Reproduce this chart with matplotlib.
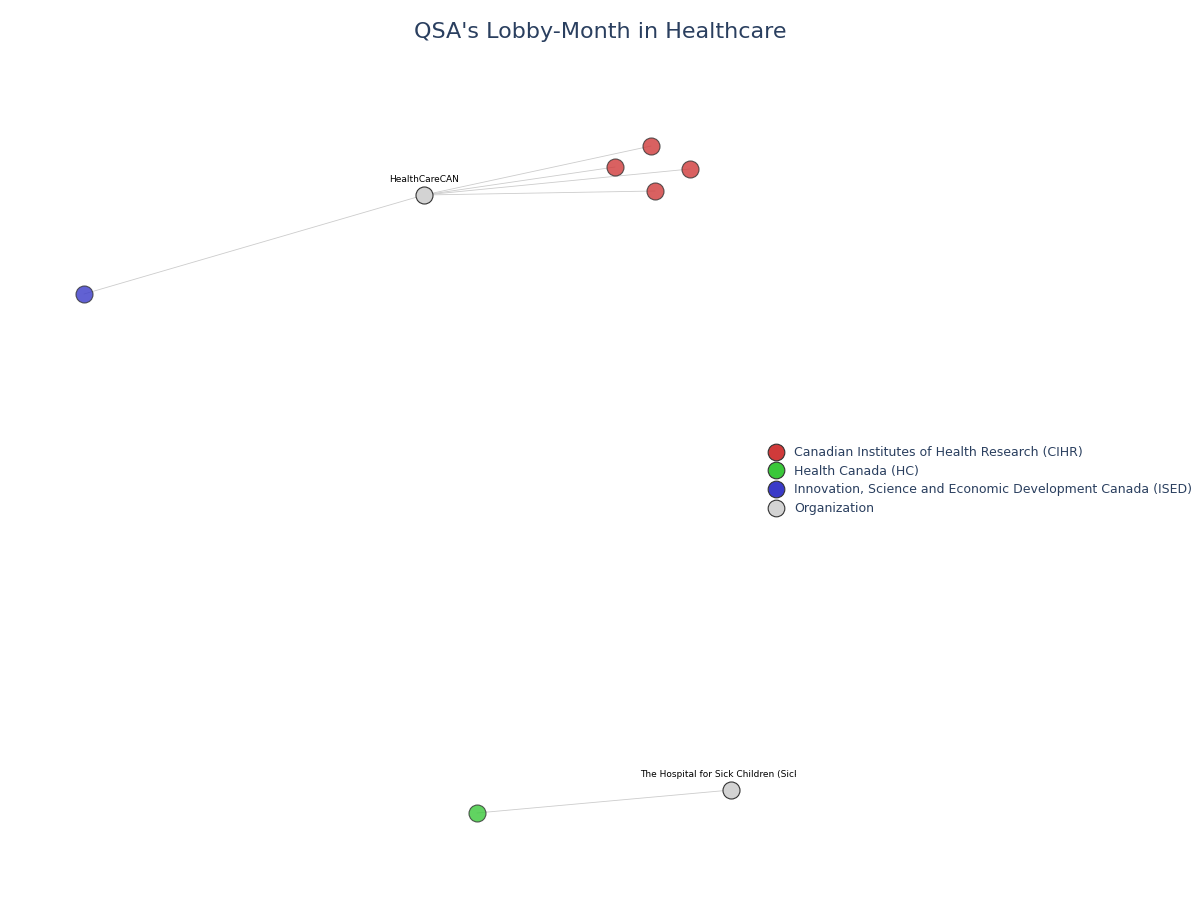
import matplotlib
matplotlib.use("Agg")
import matplotlib.pyplot as plt
from matplotlib.lines import Line2D

# node positions (layout coordinates, pixel-like)
node_names = ["HealthCareAN_org", "cihr1", "cihr2", "cihr3", "cihr4", "ised1", "sickkids_org", "hc1"]
node_x = [424, 651, 615, 690, 655, 84, 731, 477]
node_y = [195, 146, 167, 169, 191, 294, 790, 813]
node_group = ["Organization", "Canadian Institutes of Health Research (CIHR)",
              "Canadian Institutes of Health Research (CIHR)", "Canadian Institutes of Health Research (CIHR)",
              "Canadian Institutes of Health Research (CIHR)",
              "Innovation, Science and Economic Development Canada (ISED)", "Organization", "Health Canada (HC)"]
node_labels = ["HealthCareCAN", "", "", "", "", "", "The Hospital for Sick Children (SickKids)", ""]
edges = [(0, 1), (0, 2), (0, 3), (0, 4), (0, 5), (6, 7)]

groups = ["Canadian Institutes of Health Research (CIHR)", "Health Canada (HC)",
          "Innovation, Science and Economic Development Canada (ISED)", "Organization"]
colors = {groups[0]: "#d03a3a", groups[1]: "#3ac83a", groups[2]: "#3a3ac8", groups[3]: "#d3d3d3"}

fig = plt.figure(figsize=(12, 9), dpi=100)
L, R, T, B = 80, 796, 100, 820
ax = fig.add_axes([L/1200, 1-B/900, (R-L)/1200, (B-T)/900])
ax.set_xlim(L, R)
ax.set_ylim(B, T)
ax.axis("off")

for a, b in edges:
    ax.plot([node_x[a], node_x[b]], [node_y[a], node_y[b]], color="#cccccc", lw=0.6, zorder=1, clip_on=False)
for i in range(len(node_x)):
    g = node_group[i]
    alpha = 1.0 if g == "Organization" else 0.8
    ax.scatter(node_x[i], node_y[i], s=150, color=colors[g], alpha=alpha, edgecolor="#333333",
               linewidth=0.8, zorder=3, clip_on=False)
    if node_labels[i]:
        ax.text(node_x[i], node_y[i]-11, node_labels[i], ha="center", va="bottom", fontsize=6.5,
                color="black", clip_on=True, zorder=4)

fig.text(0.5, 1-32/900, "QSA's Lobby-Month in Healthcare", ha="center", va="center",
         fontsize=16, color="#2a3f5f")

handles = [Line2D([], [], marker="o", ls="", markersize=12, markerfacecolor=colors[g],
                  markeredgecolor="#333333", markeredgewidth=0.8) for g in groups]
leg = fig.legend(handles, groups, loc="upper left", bbox_to_anchor=(762/1200, 1-441/900),
                 frameon=False, fontsize=9, labelspacing=0.45, handletextpad=0.7,
                 borderaxespad=0, handlelength=1.5)
for t in leg.get_texts():
    t.set_color("#2a3f5f")

fig.savefig("out.png", dpi=100)
